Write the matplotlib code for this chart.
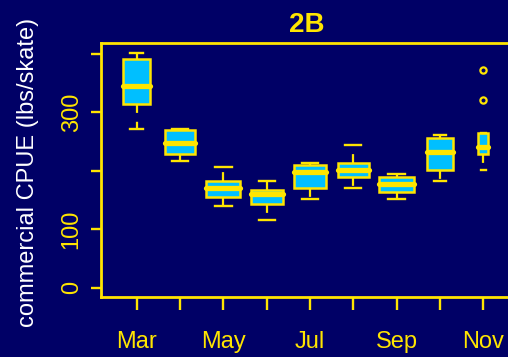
import numpy as np
import matplotlib
matplotlib.use('Agg')
import matplotlib.pyplot as plt

plt.rcParams['font.family'] = ['Liberation Sans', 'DejaVu Sans']

# monthly commercial CPUE summaries, area 2B
months = ['Mar', 'Apr', 'May', 'Jun', 'Jul', 'Aug', 'Sep', 'Oct', 'Nov']
shown = ['Mar', '', 'May', '', 'Jul', '', 'Sep', '', 'Nov']
n_obs = [33, 43, 53, 46, 46, 44, 54, 29, 5]
whislo = [270.7, 216.6, 139.2, 115.3, 150.6, 169.4, 150.6, 181.4, 200.2]
q1 = [313.4, 227.5, 155.1, 142.6, 169.4, 189.2, 162.6, 200.7, 227.5]
med = [344.7, 247.3, 169.9, 159.2, 196.8, 201.2, 177.3, 231.4, 240.0]
q3 = [390.3, 269.0, 181.9, 166.5, 209.2, 212.1, 189.2, 255.8, 263.9]
whishi = [401.7, 270.7, 205.8, 181.9, 213.5, 243.4, 193.3, 260.0, 263.9]
fliers = [[], [], [], [], [], [], [], [], [320.8, 371.0]]

bg = '#000066'
yel = '#FFE500'
fill = '#00BFFF'

fig = plt.figure(figsize=(5.08, 3.57), dpi=100, facecolor=bg)
ax = fig.add_axes([101/508, 60/357, 419/508, 254/357])
ax.set_facecolor(bg)

stats = []
for i in range(len(months)):
    stats.append(dict(label=months[i], whislo=whislo[i], q1=q1[i], med=med[i],
                      q3=q3[i], whishi=whishi[i], fliers=fliers[i]))

pos = np.arange(1, len(months) + 1)
widths = 0.8 * np.sqrt(np.array(n_obs) / max(n_obs))
ax.bxp(stats, positions=pos, widths=widths, capwidths=widths * 0.5,
       patch_artist=True,
       boxprops=dict(facecolor=fill, edgecolor=yel, linewidth=1.8),
       medianprops=dict(color=yel, linewidth=3.8, solid_capstyle='round'),
       whiskerprops=dict(color=yel, linewidth=1.6, linestyle=(0, (4, 4))),
       capprops=dict(color=yel, linewidth=1.7),
       flierprops=dict(marker='o', markerfacecolor='none', markeredgecolor=yel,
                       markersize=4.5, markeredgewidth=1.6))

ax.set_xlim(0.176, 9.85)
ax.set_ylim(-16.2, 418)
ax.set_xticks(pos)
ax.set_xticklabels(shown, fontsize=17)
ax.set_yticks([0, 100, 200, 300, 400])
ax.set_yticklabels(['0', '100', '', '300', ''], fontsize=17, rotation=90, va='center')
ax.tick_params(axis='x', colors=yel, length=9.6, width=1.7, pad=15)
ax.tick_params(axis='y', colors=yel, length=7.2, width=1.7, pad=6)

for s in ['left', 'top', 'bottom']:
    ax.spines[s].set_color(yel)
    ax.spines[s].set_linewidth(2)
ax.spines['right'].set_visible(False)

fig.text(307/508, 1 - 25/357, '2B', color=yel, fontsize=20, fontweight='bold',
         ha='center', va='center')
fig.text(28/508, 1 - 172/357, 'commercial CPUE (lbs/skate)', color='white',
         fontsize=17, rotation=90, ha='center', va='center')

fig.savefig('out.png', dpi=100, facecolor=bg)
